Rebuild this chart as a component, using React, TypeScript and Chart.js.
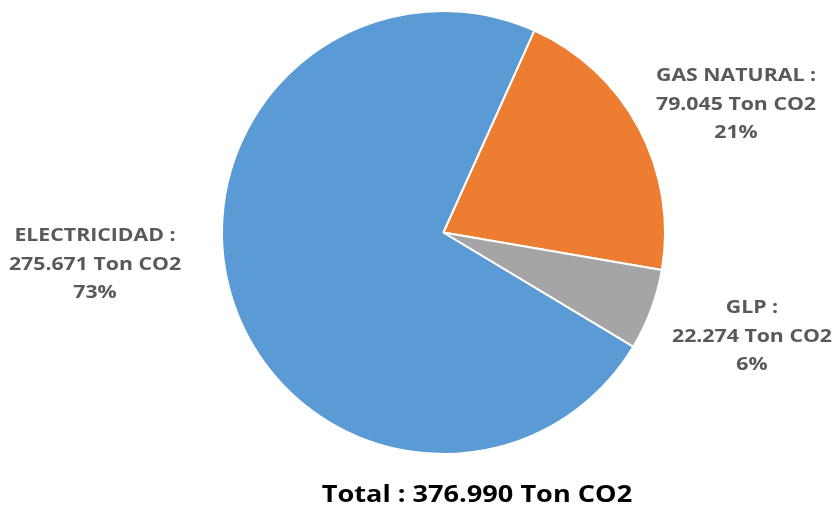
import React, { useEffect, useRef } from "react";
import { Chart, registerables } from "chart.js";

Chart.register(...registerables);

const categories = ["ELECTRICIDAD", "GAS NATURAL", "GLP"];
const values = [275.671, 79.045, 22.274];
const valueLabels = ["275.671", "79.045", "22.274"];
const percentLabels = ["73%", "21%", "6%"];
const totalLabel = "Total : 376.990 Ton CO2";
const colors = ["#5B9BD5", "#ED7D31", "#A5A5A5"];

// label anchor positions (layout only)
const labelAnchors = [
  { x: 95, y: 236 },
  { x: 736, y: 76 },
  { x: 752, y: 308 },
];

function stretchedText(ctx: CanvasRenderingContext2D, text: string, x: number, y: number, sx: number) {
  ctx.save();
  ctx.translate(x, y);
  ctx.scale(sx, 1);
  ctx.fillText(text, 0, 0);
  ctx.restore();
}

const labelPlugin = {
  id: "outerLabels",
  afterDraw(chart: any) {
    const ctx = chart.ctx;
    ctx.save();
    ctx.textAlign = "center";
    ctx.textBaseline = "middle";
    ctx.fillStyle = "#595959";
    ctx.font = "bold 18.5px 'Open Sans'";
    categories.forEach((c, i) => {
      const a = labelAnchors[i];
      const lines = [c + " :", valueLabels[i] + " Ton CO2", percentLabels[i]];
      lines.forEach((l, j) => stretchedText(ctx, l, a.x, a.y + j * 28.5, 1.15));
    });
    ctx.fillStyle = "#000000";
    ctx.font = "bold 24px 'Open Sans'";
    stretchedText(ctx, totalLabel, 477, 495, 1.13);
    ctx.restore();
  },
};

export default function App() {
  const ref = useRef<HTMLCanvasElement>(null);
  useEffect(() => {
    document.body.style.margin = "0";
    const chart = new Chart(ref.current!, {
      type: "pie",
      data: {
        labels: categories,
        datasets: [
          {
            data: values,
            backgroundColor: colors,
            borderColor: "#ffffff",
            borderWidth: 2,
          },
        ],
      },
      options: {
        responsive: false,
        animation: false,
        rotation: 121,
        layout: { padding: { left: 221, right: 168, top: 10, bottom: 57 } },
        plugins: {
          legend: { display: false },
          tooltip: { enabled: false },
        },
      },
      plugins: [labelPlugin],
    });
    return () => chart.destroy();
  }, []);
  return <canvas ref={ref} width={834} height={512} style={{ display: "block" }} />;
}
